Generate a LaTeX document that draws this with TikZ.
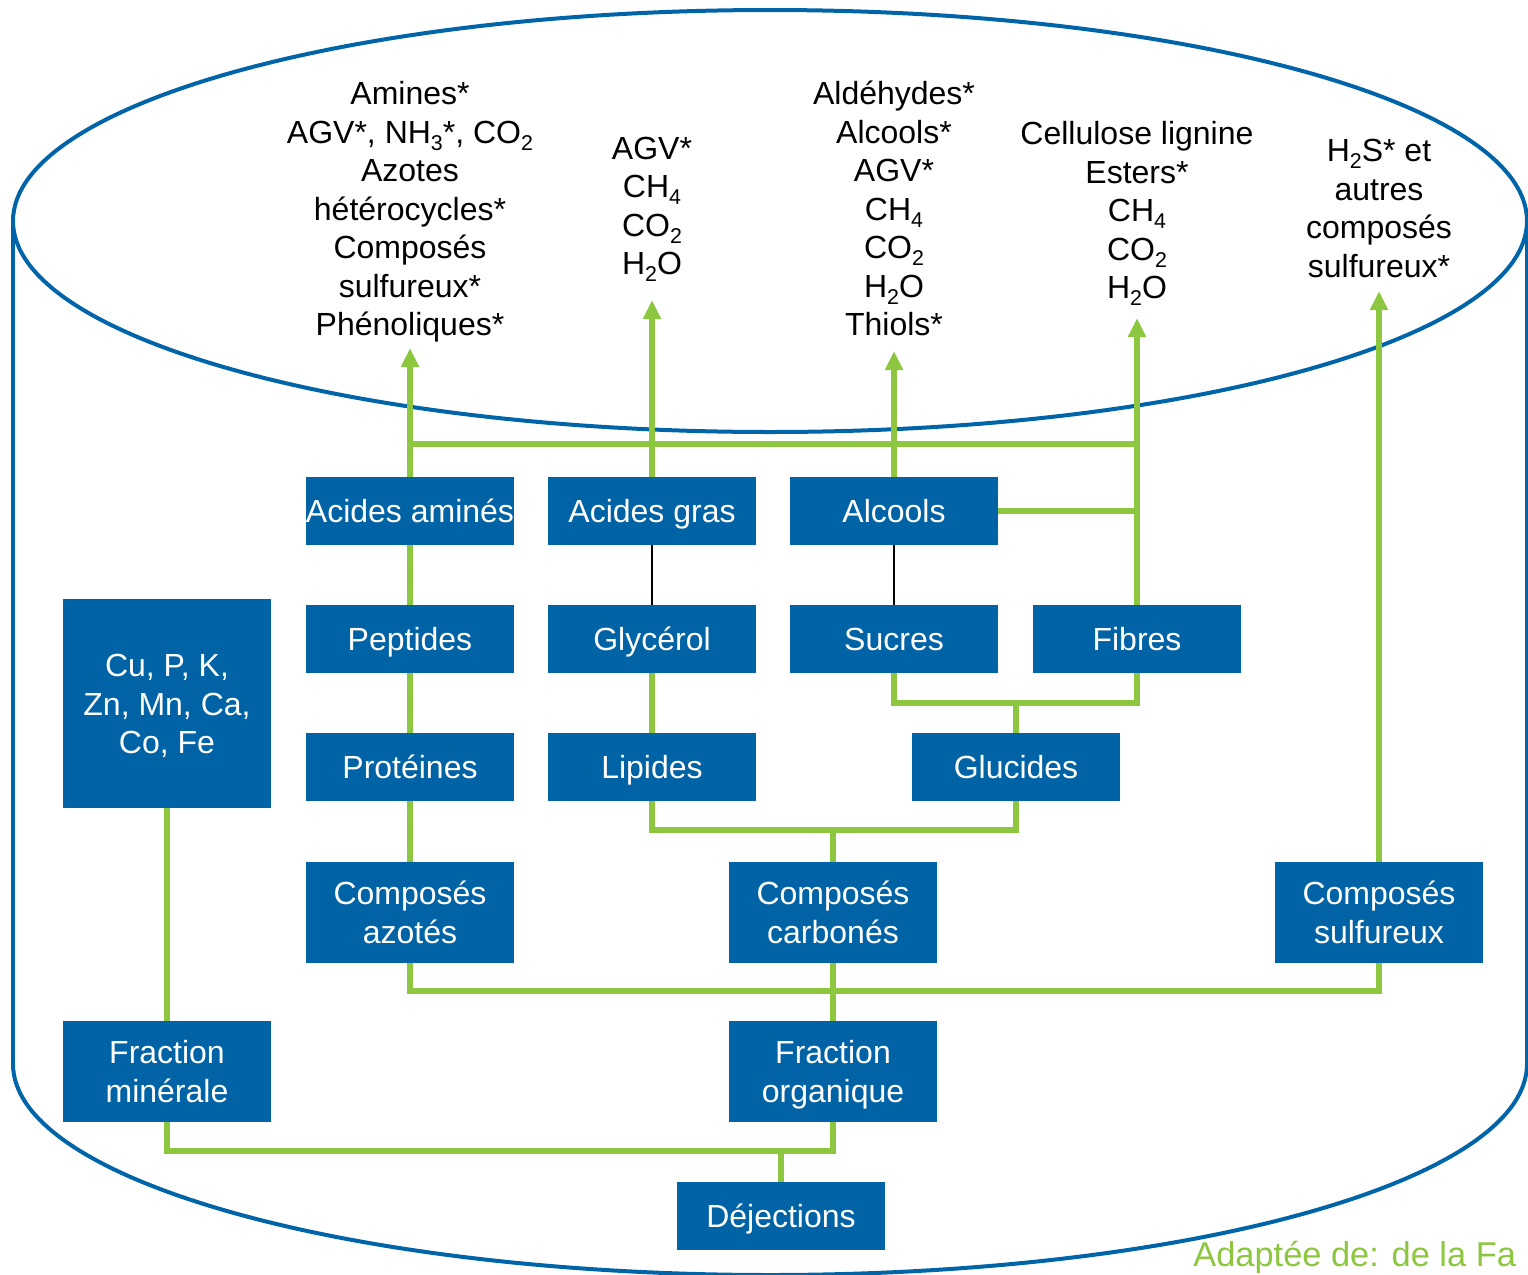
\documentclass[tikz,border=0pt]{standalone}
\usepackage{fontspec}
\setmainfont{Liberation Sans}
\usetikzlibrary{arrows.meta}
\definecolor{boxblue}{RGB}{0,99,166}
\definecolor{cylblue}{RGB}{0,101,168}
\definecolor{lgreen}{RGB}{141,198,63}
\newcommand{\chsub}[1]{\raisebox{-0.22em}{\fontsize{10.7}{10.7}\selectfont #1}}
\begin{document}
\begin{tikzpicture}[x=0.5pt,y=-0.5pt,
  bigfont/.style={font=\fontsize{16}{19.25}\selectfont},
  box/.style={bigfont, fill=boxblue, text=white, minimum width=104pt, minimum height=34pt, inner sep=0pt, align=center, text height=11.5pt, text depth=0pt},
  tallbox/.style={box, minimum height=50.5pt, text height=30.75pt},
  txt/.style={bigfont, text=black, inner sep=0pt, align=center},
  cyl/.style={draw=cylblue, line width=2pt},
  g/.style={draw=lgreen, line width=2.8pt},
  garrow/.style={g, -{Triangle[width=8.5pt,length=9.5pt]}},
  thin/.style={draw=black, line width=0.7pt}]
\useasboundingbox (0,0) rectangle (1528,1275);
\clip (0,0) rectangle (1528,1275);
% cylinder
\draw[cyl] (770,221) ellipse [x radius=378.5pt, y radius=105.5pt];
\begin{scope}
  \clip (0,1064) rectangle (1528,1300);
  \draw[cyl] (770,1064) ellipse [x radius=378.5pt, y radius=105.5pt];
\end{scope}
\draw[cyl] (13,221) -- (13,1065);
\draw[cyl] (1527,221) -- (1527,1065);

% boxes
\node[box] (aa)  at (410,511) {Acides aminés};
\node[box] (ag)  at (652,511) {Acides gras};
\node[box] (alc) at (894,511) {Alcools};
\node[box] (pep) at (410,639) {Peptides};
\node[box] (gly) at (652,639) {Glycérol};
\node[box] (suc) at (894,639) {Sucres};
\node[box] (fib) at (1137,639) {Fibres};
\node[box] (pro) at (410,767) {Protéines};
\node[box] (lip) at (652,767) {Lipides};
\node[box] (glu) at (1016,767) {Glucides};
\node[box, minimum height=104.5pt, text height=50pt] (min) at (167,703.5) {Cu, P, K,\\Zn, Mn, Ca,\\Co, Fe};
\node[tallbox] (caz) at (410,912.5) {Composés\\azotés};
\node[tallbox] (cca) at (833,912.5) {Composés\\carbonés};
\node[tallbox] (csu) at (1379,912.5) {Composés\\sulfureux};
\node[tallbox] (fm)  at (167,1071.5) {Fraction\\minérale};
\node[tallbox] (fo)  at (833,1071.5) {Fraction\\organique};
\node[box] (dej) at (781,1216) {Déjections};

% top texts
\node[txt] (o1) at (410,212) {Amines*\\AGV*, NH\chsub{3}*, CO\chsub{2}\\Azotes\\hétérocycles*\\Composés\\sulfureux*\\Phénoliques*};
\node[txt] (o2) at (652,209.5) {AGV*\\CH\chsub{4}\\CO\chsub{2}\\H\chsub{2}O};
\node[txt] (o3) at (894,208.5) {Aldéhydes*\\Alcools*\\AGV*\\CH\chsub{4}\\CO\chsub{2}\\H\chsub{2}O\\Thiols*};
\node[txt] (o4) at (1137,213.5) {Cellulose lignine\\Esters*\\CH\chsub{4}\\CO\chsub{2}\\H\chsub{2}O};
\node[txt] (o5) at (1379,208.5) {H\chsub{2}S* et\\autres\\composés\\sulfureux*};

\node[font=\fontsize{17.2}{20}\selectfont, text=lgreen, anchor=base west, inner sep=0pt] (src) at (1193,1266) {Adaptée de: de la Fa};

% arrow tips and buses
\coordinate (t1) at (410,348);
\coordinate (t2) at (652,300);
\coordinate (t3) at (894,351);
\coordinate (t4) at (1137,318);
\coordinate (t5) at (1379,291);
\coordinate (busT) at (0,444);
\coordinate (busG) at (0,703);
\coordinate (busC) at (0,830);
\coordinate (busO) at (0,991);
\coordinate (busD) at (0,1151);

% connectors
\draw[garrow] (aa.north) -- (t1);
\draw[garrow] (ag.north) -- (t2);
\draw[garrow] (alc.north) -- (t3);
\draw[garrow] (fib.north) -- (t4);
\draw[garrow] (csu.north) -- (t5);
\draw[g] (aa.north |- busT) -- (fib.north |- busT);
\draw[g] (alc.east) -- (alc.east -| fib.north);

\draw[g] (pep.north) -- (aa.south);
\draw[g] (pro.north) -- (pep.south);
\draw[g] (caz.north) -- (pro.south);
\draw[thin] (gly.north) -- (ag.south);
\draw[thin] (suc.north) -- (alc.south);
\draw[g] (lip.north) -- (gly.south);

\draw[g] (glu.north) -- (glu.north |- busG);
\draw[g] (suc.south) -- (suc.south |- busG) -- (fib.south |- busG) -- (fib.south);

\draw[g] (cca.north) -- (cca.north |- busC);
\draw[g] (lip.south) -- (lip.south |- busC) -- (glu.south |- busC) -- (glu.south);

\draw[g] (fo.north) -- (cca.south);
\draw[g] (caz.south) -- (caz.south |- busO) -- (csu.south |- busO) -- (csu.south);

\draw[g] (fm.north) -- (min.south);
\draw[g] (dej.north) -- (dej.north |- busD);
\draw[g] (fm.south) -- (fm.south |- busD) -- (fo.south |- busD) -- (fo.south);
\end{tikzpicture}
\end{document}
